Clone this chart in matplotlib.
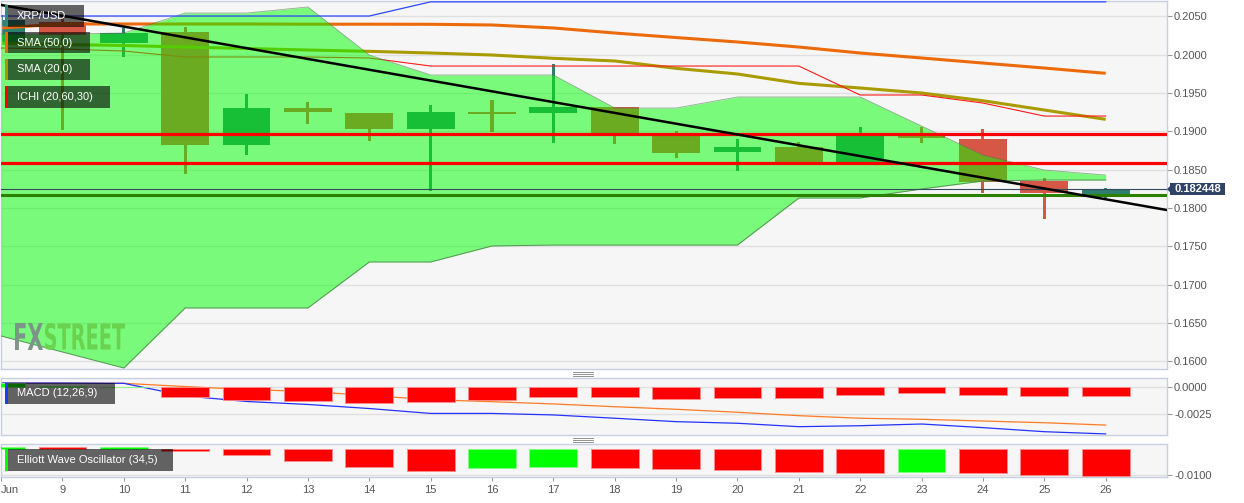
import numpy as np
import matplotlib
matplotlib.use("Agg")
import matplotlib.pyplot as plt
from matplotlib.patches import Rectangle, PathPatch, Polygon
from matplotlib.lines import Line2D
from matplotlib.textpath import TextPath
from matplotlib.font_manager import FontProperties
from matplotlib.transforms import Affine2D, IdentityTransform, blended_transform_factory

plt.rcParams['font.family'] = ['Liberation Sans', 'DejaVu Sans']

# ---------------- data ----------------
days = np.arange(8, 27)
date_labels = ['Jun'] + [str(d) for d in range(9, 27)]

opens = [0.20153, 0.20427, 0.20153, 0.20296, 0.18821, 0.19304, 0.19239, 0.19030, 0.19258, 0.19239,
         0.19317, 0.18977, 0.18729, 0.18795, 0.18586, 0.18938, 0.18899, 0.18351, 0.18174]
highs = [0.20518, 0.20479, 0.20349, 0.20362, 0.19487, 0.19382, 0.19239, 0.19343, 0.19408, 0.19878,
         0.19317, 0.19003, 0.18899, 0.18860, 0.19055, 0.19055, 0.19030, 0.18390, 0.18263]
lows = [0.20127, 0.19017, 0.19970, 0.18442, 0.18689, 0.19095, 0.18873, 0.18220, 0.18991, 0.18847,
        0.18834, 0.18651, 0.18481, 0.18599, 0.18586, 0.18847, 0.18190, 0.17854, 0.18129]
closes = [0.20453, 0.20257, 0.20283, 0.18821, 0.19304, 0.19252, 0.19030, 0.19252, 0.19232, 0.19317,
          0.18977, 0.18716, 0.18795, 0.18599, 0.18977, 0.18912, 0.18344, 0.18194, 0.182448]

sma50 = [0.20349, 0.20401, 0.20401, 0.20401, 0.20401, 0.20398, 0.20398, 0.20397, 0.20388, 0.20349,
         0.20283, 0.20224, 0.20166, 0.20100, 0.20022, 0.19957, 0.19891, 0.19826, 0.19757]
sma20 = [0.20149, 0.20133, 0.20120, 0.20100, 0.20081, 0.20061, 0.20044, 0.20022, 0.19996, 0.19953,
         0.19918, 0.19822, 0.19748, 0.19626, 0.19565, 0.19500, 0.19399, 0.19278, 0.19156]

cloud_upper = [0.20270, 0.20270, 0.20283, 0.20544, 0.20544, 0.20623, 0.19996, 0.19735, 0.19735, 0.19735,
               0.19304, 0.19304, 0.19448, 0.19448, 0.19448, 0.19069, 0.18690, 0.18495, 0.18429]
cloud_lower = [0.16328, 0.16119, 0.15910, 0.16694, 0.16694, 0.16694, 0.17294, 0.17294, 0.17503, 0.17515,
               0.17515, 0.17515, 0.17515, 0.18129, 0.18129, 0.18247, 0.18351, 0.18364, 0.18364]
ichi_blue = [0.20505] * 7 + [0.20690] * 12
ichi_red = [0.20087, 0.20074, 0.20048, 0.19970, 0.19970, 0.19970, 0.19957] + [0.19852] * 7 + \
           [0.19474, 0.19474, 0.19369, 0.19199, 0.19199]

trend_days = [8, 27]
trend_prices = [0.20649, 0.17972]
resistance_levels = [0.18965, 0.18586]
support_level = 0.18164
last_price = 0.182448

macd_line = [0.00040, 0.00040, 0.00037, -0.00081, -0.00133, -0.00161, -0.00199, -0.00245, -0.00245, -0.00259,
             -0.00290, -0.00322, -0.00337, -0.00369, -0.00360, -0.00344, -0.00378, -0.00416, -0.00437]
macd_signal = [0.00040, 0.00040, 0.00037, 0.00007, -0.00021, -0.00039, -0.00077, -0.00116, -0.00135, -0.00156,
               -0.00182, -0.00206, -0.00234, -0.00266, -0.00290, -0.00300, -0.00316, -0.00332, -0.00354]
macd_hist = [0.00037, 0.00015, 0.00007, -0.00091, -0.00119, -0.00128, -0.00147, -0.00135, -0.00119, -0.00094,
             -0.00094, -0.00110, -0.00103, -0.00103, -0.00072, -0.00051, -0.00069, -0.00084, -0.00081]
ewo = [0.00074, 0.00070, 0.00097, -0.00070, -0.00225, -0.00446, -0.00678, -0.00845, -0.00740, -0.00702,
       -0.00740, -0.00779, -0.00806, -0.00872, -0.00911, -0.00895, -0.00934, -0.01000, -0.01039]

price_ticks = [0.1600, 0.1650, 0.1700, 0.1750, 0.1800, 0.1850, 0.1900, 0.1950, 0.2000, 0.2050]
macd_ticks = [0.0000, -0.0025]
ewo_ticks = [-0.0100]

# ---------------- figure / layout ----------------
W, H = 1244, 503
fig = plt.figure(figsize=(W / 100, H / 100), dpi=100)
fig.patch.set_facecolor('white')


def px_axes(x0, y0, x1, y1):
    return fig.add_axes([x0 / W, 1 - y1 / H, (x1 - x0) / W, (y1 - y0) / H])


ax = px_axes(0.5, 1, 1167, 369)
ax_macd = px_axes(0.5, 378, 1167, 435)
ax_ewo = px_axes(0.5, 444.3, 1167, 476.7)

SPINE = '#c9cfe2'
TICKC = '#555555'
for a in (ax, ax_macd, ax_ewo):
    a.set_facecolor('#f6f6f6')
    a.set_xlim(7.99, 27.0)
    for s in a.spines.values():
        s.set_color(SPINE)
        s.set_linewidth(1)
    a.yaxis.tick_right()
    a.tick_params(axis='y', which='both', direction='out', length=3.6, width=0.8,
                  color='#9a9a9a', labelcolor=TICKC, labelsize=8, pad=1.5, left=False)
    a.tick_params(axis='x', length=0, labelbottom=False)
    a.yaxis.grid(True, color='#e0e0e0', lw=1)
    a.set_axisbelow(True)

# ---------------- main price panel ----------------
ax.set_ylim(0.15897, 0.20701)
ax.set_yticks(price_ticks)
ax.set_yticklabels([f'{t:.4f}' for t in price_ticks])

UP, DOWN = '#2f7f6f', '#d65746'
o = np.array(opens); c = np.array(closes); h = np.array(highs); l = np.array(lows)
cols = [UP if cc >= oo else DOWN for oo, cc in zip(o, c)]
ax.bar(days, h - l, bottom=l, width=0.05, color=cols, lw=0, zorder=2)
ax.bar(days, np.abs(c - o), bottom=np.minimum(o, c), width=0.78, color=cols, lw=0, zorder=2.1)

ax.plot(days, sma50, color='#ec6a0a', lw=2.2, zorder=2.5, solid_capstyle='butt')
ax.plot(days, sma20, color='#aa9b00', lw=2.2, zorder=2.5, solid_capstyle='butt')
ax.plot(days, ichi_red, color='#ff1a1a', lw=0.8, zorder=2.6)

ax.fill_between(days, cloud_lower, cloud_upper, color='#00ff00', alpha=0.5, lw=0, zorder=3)
ax.plot(days, cloud_upper, color='#4f7a4f', lw=0.6, alpha=0.6, zorder=3.1)
ax.plot(days, cloud_lower, color='#4f7a4f', lw=0.7, alpha=0.8, zorder=3.1)

ax.plot(days, ichi_blue, color='#2a48ff', lw=0.9, zorder=4)

for lvl in resistance_levels:
    ax.axhline(lvl, color='#ff0000', lw=2.3, zorder=5)
ax.axhline(support_level, color='#2a8200', lw=2.2, zorder=5)
ax.axhline(last_price, color='#34495e', lw=0.8, zorder=5.5)
ax.plot(trend_days, trend_prices, color='black', lw=1.8, zorder=6)

# last price tag on the price axis
blend = blended_transform_factory(ax.transAxes, ax.transData)
tag_x = 1169.5 / 1166.5
tag_h = 12 / 7660
ax.add_patch(Rectangle((tag_x, last_price - tag_h / 2), 55 / 1166.5, tag_h, transform=blend,
                       fc='#2f4366', ec='none', clip_on=False, zorder=10))
ax.add_patch(Polygon([(tag_x, last_price + 0.0004), (tag_x - 3 / 1166.5, last_price),
                      (tag_x, last_price - 0.0004)], closed=True, transform=blend,
                     fc='#2f4366', ec='none', clip_on=False, zorder=10))
ax.text(tag_x + 27.5 / 1166.5, last_price, f'{last_price:.6f}', transform=blend, ha='center',
        va='center', color='white', fontsize=8, fontweight='bold', zorder=11, clip_on=False)


# watermark
def logo_part(s, x0, y0, x1, y1, color):
    tp = TextPath((0, 0), s, size=100, prop=FontProperties(family='DejaVu Sans', weight='bold'))
    bb = tp.get_extents()
    tr = Affine2D().translate(-bb.x0, -bb.y0).scale((x1 - x0) / bb.width, (y1 - y0) / bb.height) \
        .translate(x0, H - y1)
    p = PathPatch(tr.transform_path(tp), fc=color, ec='none', transform=IdentityTransform(), zorder=3.2)
    ax.add_patch(p)


logo_part('FX', 15, 323, 43, 350, '#7d9589')
logo_part('STREET', 45, 323, 125, 350, '#69d24f')

# ---------------- MACD panel ----------------
ax_macd.set_ylim(-0.00447, 0.00087)
ax_macd.set_yticks(macd_ticks)
ax_macd.set_yticklabels([f'{t:.4f}' for t in macd_ticks])
mh = np.array(macd_hist)
ax_macd.bar(days, mh, width=0.78, color=['#00ff00' if v >= 0 else '#ff0000' for v in mh],
            edgecolor=['#80ff80' if v >= 0 else '#ff8a8a' for v in mh], lw=0.6, zorder=3)
ax_macd.plot(days, macd_signal, color='#ff7a22', lw=0.9, zorder=2)
ax_macd.plot(days, macd_line, color='#2233ff', lw=0.9, zorder=2)

# ---------------- Elliott Wave Oscillator panel ----------------
ax_ewo.set_ylim(-0.01066, 0.0019)
ax_ewo.set_yticks(ewo_ticks)
ax_ewo.set_yticklabels([f'{t:.4f}' for t in ewo_ticks])
ew = np.array(ewo)
ewo_cols = ['#00ff00'] + ['#00ff00' if ew[i] > ew[i - 1] else '#ff0000' for i in range(1, len(ew))]
ewo_edges = ['#80ff80' if cc == '#00ff00' else '#ff8a8a' for cc in ewo_cols]
ax_ewo.bar(days, ew, width=0.78, color=ewo_cols, edgecolor=ewo_edges, lw=0.6, zorder=3)

ax_ewo.set_xticks(days)
ax_ewo.set_xticklabels(date_labels)
ax_ewo.tick_params(axis='x', length=3, width=0.8, color='#9a9a9a', labelbottom=True,
                   labelcolor=TICKC, labelsize=8, pad=3)
ax_ewo.get_xticklabels()[0].set_ha('left')


# ---------------- legend boxes ----------------
def legend_box(x0, y0, x1, y1, label, bar_color):
    fig.add_artist(Rectangle((x0 / W, 1 - y1 / H), (x1 - x0) / W, (y1 - y0) / H,
                             transform=fig.transFigure, fc='black', alpha=0.6, ec='none', zorder=20))
    fig.add_artist(Rectangle((5 / W, 1 - y1 / H), 3 / W, (y1 - y0) / H,
                             transform=fig.transFigure, fc=bar_color, ec='none', zorder=21))
    fig.text(17 / W, 1 - (y0 + y1) / 2 / H, label, color='white', fontsize=8,
             ha='left', va='center', zorder=22)


legend_box(8, 5, 84, 27, 'XRP/USD', '#2f8a7e')
legend_box(8, 32, 90, 53, 'SMA (50,0)', '#ec6a0a')
legend_box(8, 59, 90, 80, 'SMA (20,0)', '#a89600')
legend_box(8, 86, 110, 108, 'ICHI (20,60,30)', '#ff0000')
legend_box(8, 383, 115, 404, 'MACD (12,26,9)', '#1a3cff')
legend_box(8, 449, 173, 471, 'Elliott Wave Oscillator (34,5)', '#00ff00')

# panel resize grips
for yc in (374, 440):
    for dy in (-1.7, 0, 1.7):
        fig.add_artist(Line2D([573 / W, 593 / W], [1 - (yc + dy) / H] * 2,
                              color='#808080', lw=0.6, transform=fig.transFigure, zorder=20))

fig.savefig('out.png', dpi=100, facecolor='white')
